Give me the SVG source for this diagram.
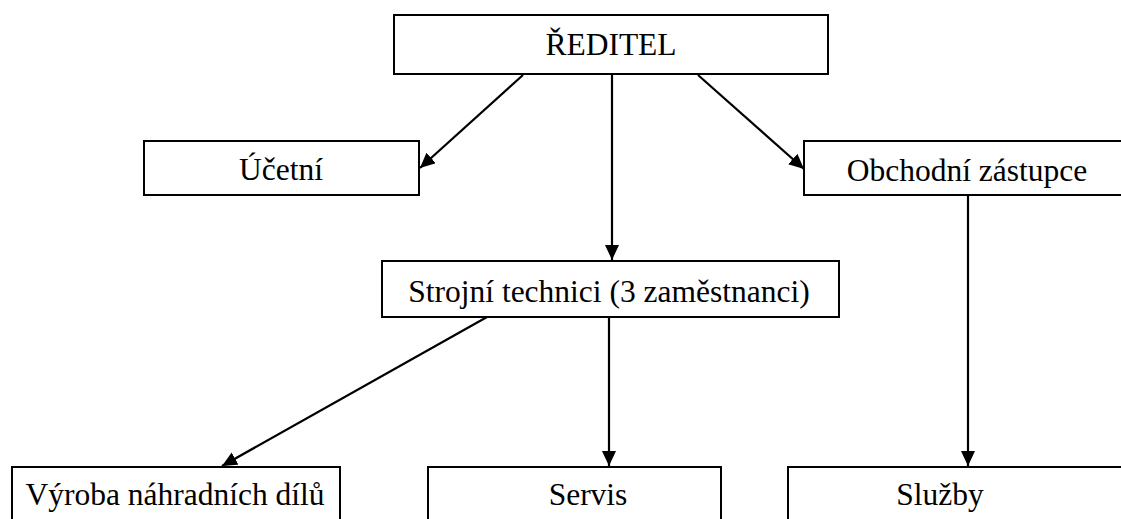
<svg xmlns="http://www.w3.org/2000/svg" width="1121" height="519" viewBox="0 0 1121 519">
  <style>
    .box { fill: #ffffff; stroke: #000000; stroke-width: 2; }
    .lbl { font-family: "Liberation Serif", "Times New Roman", serif; font-size: 31.5px; fill: #000000; text-anchor: middle; }
    .edge { stroke: #000000; stroke-width: 2.2; fill: none; marker-end: url(#arrow); }
  </style>
  <defs>
    <!-- filled triangular arrowhead, tip at the end of each connector -->
    <marker id="arrow" markerUnits="userSpaceOnUse" markerWidth="16" markerHeight="15" refX="15" refY="7" orient="auto">
      <path d="M0,0 L15,7 L0,14 z" fill="#000000"/>
    </marker>
  </defs>
  <rect width="1121" height="519" fill="#ffffff"/>

  <g id="connectors">
    <line class="edge" x1="523" y1="75" x2="420" y2="168"/>
    <line class="edge" x1="612" y1="75" x2="612" y2="260"/>
    <line class="edge" x1="698" y1="75" x2="804" y2="169"/>
    <line class="edge" x1="487" y1="317" x2="222" y2="466"/>
    <line class="edge" x1="609" y1="317" x2="609" y2="466"/>
    <line class="edge" x1="968" y1="196" x2="968" y2="466"/>
  </g>

  <g id="reditel">
    <rect class="box" x="394" y="15" width="434" height="59"/>
    <text class="lbl" x="611" y="55">ŘEDITEL</text>
  </g>
  <g id="ucetni">
    <rect class="box" x="144" y="141" width="275" height="54"/>
    <text class="lbl" x="281" y="180">Účetní</text>
  </g>
  <g id="obchodni-zastupce">
    <rect class="box" x="804" y="141" width="330" height="54"/>
    <text class="lbl" x="967" y="181">Obchodní zástupce</text>
  </g>
  <g id="strojni-technici">
    <rect class="box" x="382" y="261" width="457" height="56"/>
    <text class="lbl" x="609" y="302">Strojní technici (3 zaměstnanci)</text>
  </g>
  <g id="vyroba">
    <rect class="box" x="12" y="467" width="328" height="70"/>
    <text class="lbl" x="175" y="505">Výroba náhradních dílů</text>
  </g>
  <g id="servis">
    <rect class="box" x="428" y="467" width="293" height="70"/>
    <text class="lbl" x="588" y="505">Servis</text>
  </g>
  <g id="sluzby">
    <rect class="box" x="788" y="467" width="345" height="70"/>
    <text class="lbl" x="940" y="505">Služby</text>
  </g>
</svg>
